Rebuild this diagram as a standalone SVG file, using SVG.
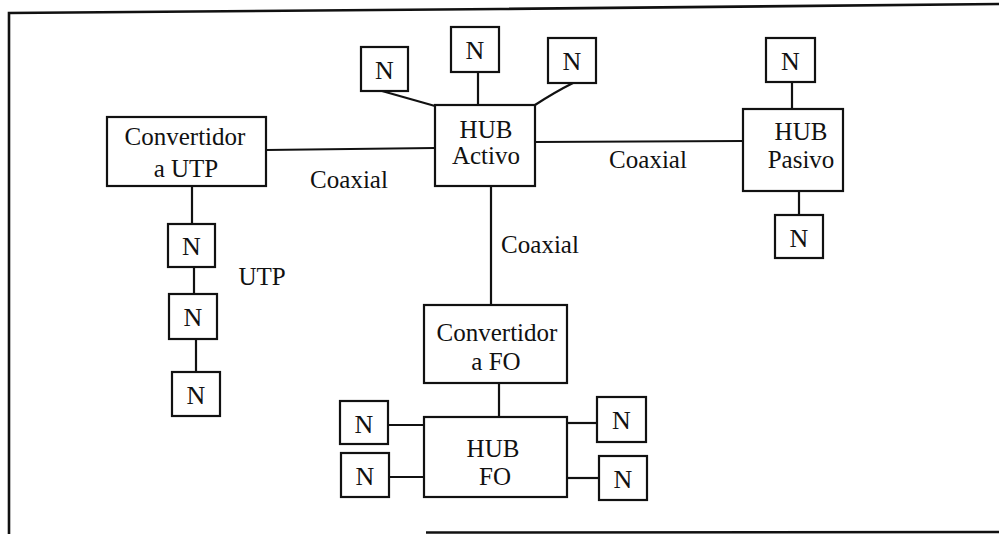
<svg xmlns="http://www.w3.org/2000/svg" width="999" height="534" viewBox="0 0 999 534">
<style>
  .box { fill: #ffffff; stroke: #111111; stroke-width: 2.2; }
  .ln { fill: none; stroke: #111111; stroke-width: 2.2; }
  .frame { fill: none; stroke: #111111; stroke-width: 2.6; }
  text { font-family: "Liberation Serif", "Times New Roman", serif; font-size: 25px; fill: #111111; text-anchor: middle; }
  .n { font-size: 26px; }
</style>
<rect x="0" y="0" width="999" height="534" fill="#ffffff"/>
<g id="frame">
  <path class="frame" d="M9,534 L9,13 L500,9 L999,4"/>
  <path class="frame" d="M426,532.5 L999,532"/>
</g>
<g id="connectors">
  <line class="ln" x1="266" y1="150" x2="435" y2="148"/>
  <line class="ln" x1="535" y1="142" x2="743" y2="141"/>
  <line class="ln" x1="382" y1="91" x2="435" y2="106"/>
  <line class="ln" x1="478" y1="72" x2="478" y2="105"/>
  <path class="ln" d="M573,83 Q555,92 535,105"/>
  <line class="ln" x1="491" y1="186" x2="491" y2="305"/>
  <line class="ln" x1="192" y1="186" x2="192" y2="224"/>
  <line class="ln" x1="194" y1="267" x2="194" y2="294"/>
  <line class="ln" x1="196" y1="339" x2="196" y2="372"/>
  <line class="ln" x1="792" y1="82" x2="792" y2="109"/>
  <line class="ln" x1="799" y1="191" x2="799" y2="215"/>
  <line class="ln" x1="499" y1="383" x2="499" y2="417"/>
  <line class="ln" x1="388" y1="425" x2="424" y2="425"/>
  <line class="ln" x1="389" y1="477" x2="424" y2="477"/>
  <line class="ln" x1="567" y1="423" x2="597" y2="423"/>
  <line class="ln" x1="567" y1="478" x2="599" y2="478"/>
  <text x="349" y="188">Coaxial</text>
  <text x="648" y="168">Coaxial</text>
  <text x="540" y="253">Coaxial</text>
  <text x="262" y="285">UTP</text>
</g>
<g id="n1"><rect class="box" x="361" y="47" width="47" height="44"/><text class="n" x="384.5" y="79">N</text></g>
<g id="n2"><rect class="box" x="451" y="27" width="48" height="45"/><text class="n" x="475" y="59">N</text></g>
<g id="n3"><rect class="box" x="548" y="38" width="48" height="45"/><text class="n" x="572" y="70">N</text></g>
<g id="hubActivo"><rect class="box" x="435" y="105" width="100" height="81"/><text x="486" y="138">HUB</text><text x="486" y="164">Activo</text></g>
<g id="convUTP"><rect class="box" x="107" y="117" width="159" height="69"/><text x="185" y="145">Convertidor</text><text x="186" y="177">a UTP</text></g>
<g id="nUtp1"><rect class="box" x="168" y="224" width="47" height="43"/><text class="n" x="191.5" y="255">N</text></g>
<g id="nUtp2"><rect class="box" x="169" y="294" width="48" height="45"/><text class="n" x="193" y="326">N</text></g>
<g id="nUtp3"><rect class="box" x="172" y="372" width="48" height="44"/><text class="n" x="196" y="404">N</text></g>
<g id="hubPasivo"><rect class="box" x="743" y="109" width="100" height="82"/><text x="801" y="140">HUB</text><text x="801" y="168">Pasivo</text></g>
<g id="nP1"><rect class="box" x="766" y="38" width="49" height="44"/><text class="n" x="790.5" y="70">N</text></g>
<g id="nP2"><rect class="box" x="775" y="215" width="48" height="43"/><text class="n" x="799" y="247">N</text></g>
<g id="convFO"><rect class="box" x="424" y="305" width="143" height="78"/><text x="497" y="341">Convertidor</text><text x="496" y="370">a FO</text></g>
<g id="hubFO"><rect class="box" x="424" y="417" width="143" height="80"/><text x="493" y="457">HUB</text><text x="495" y="485">FO</text></g>
<g id="nF1"><rect class="box" x="340" y="401" width="48" height="43"/><text class="n" x="364" y="433">N</text></g>
<g id="nF2"><rect class="box" x="341" y="453" width="48" height="44"/><text class="n" x="365" y="485">N</text></g>
<g id="nF3"><rect class="box" x="597" y="397" width="49" height="45"/><text class="n" x="621.5" y="429">N</text></g>
<g id="nF4"><rect class="box" x="599" y="456" width="48" height="44"/><text class="n" x="623" y="488">N</text></g>
</svg>
